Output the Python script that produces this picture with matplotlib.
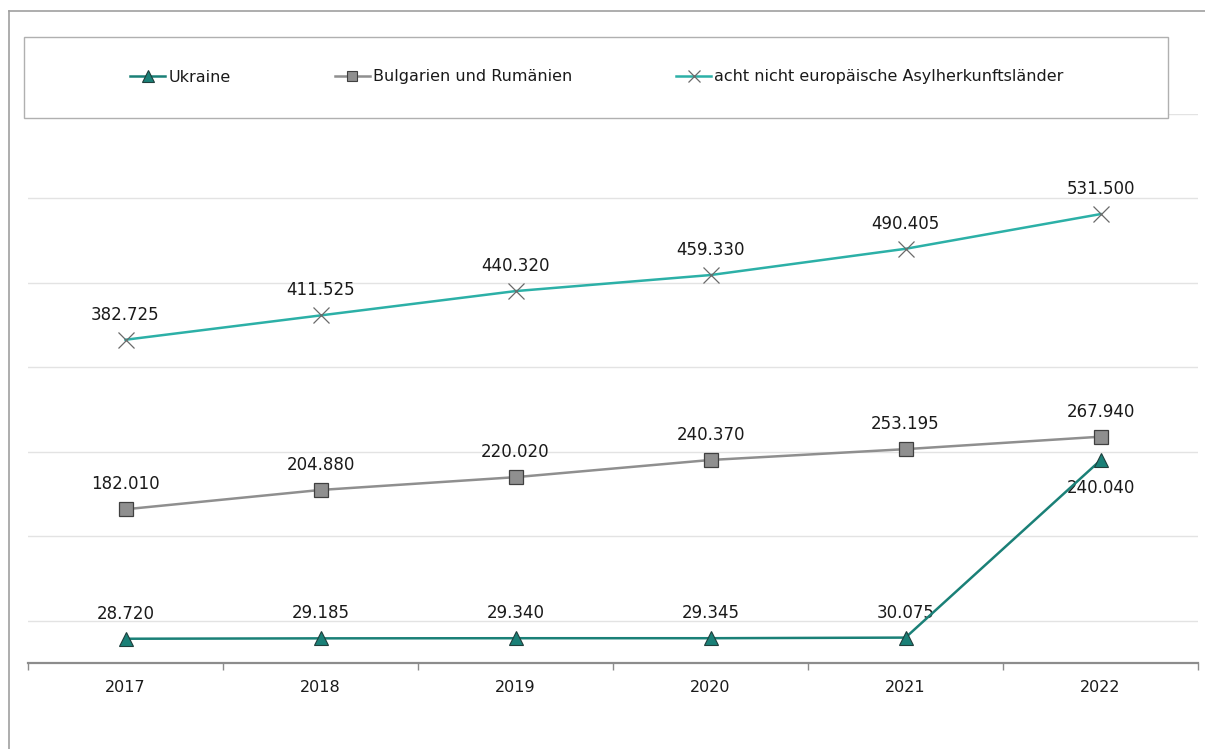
import matplotlib
matplotlib.use("Agg")
import matplotlib.pyplot as plt
from matplotlib.patches import Rectangle
from matplotlib.lines import Line2D

years = ["2017", "2018", "2019", "2020", "2021", "2022"]
ukraine = [28720, 29185, 29340, 29345, 30075, 240040]
bulgarien_rumaenien = [182010, 204880, 220020, 240370, 253195, 267940]
acht_laender = [382725, 411525, 440320, 459330, 490405, 531500]
series_names = ["Ukraine", "Bulgarien und Rumänien",
                "acht nicht europäische Asylherkunftsländer"]

W, H = 1205, 749
plt.rcParams["font.family"] = ["DejaVu Sans"]
fig = plt.figure(figsize=(W / 100, H / 100), dpi=100)

def fx(px):
    return px / W

def fy(py):
    return 1 - py / H

ax = fig.add_axes([fx(28), fy(663), fx(1198) - fx(28), fy(114) - fy(663)])
ax.set_xlim(-0.5, 5.5)
ax.set_ylim(0, 650000)

# horizontal gridlines
for g in range(50000, 650001, 100000):
    ax.axhline(g, color="#e3e3e3", lw=1.0, zorder=0)

x = list(range(len(years)))
fmt = lambda v: f"{v:,}".replace(",", ".")

teal_dark = "#1a8077"
teal_light = "#2cb0a7"
grey = "#8f8f8f"

l1, = ax.plot(x, ukraine, color=teal_dark, lw=1.8, marker="^", markersize=10,
              markerfacecolor=teal_dark, markeredgecolor="#1f3f3c",
              markeredgewidth=0.8, zorder=4)
l2, = ax.plot(x, bulgarien_rumaenien, color=grey, lw=1.8, marker="s",
              markersize=9.5, markerfacecolor=grey, markeredgecolor="#404040",
              markeredgewidth=0.9, zorder=3)
l3, = ax.plot(x, acht_laender, color=teal_light, lw=1.8, marker="x",
              markersize=11, markeredgecolor="#6a6a6a", markeredgewidth=0.9,
              zorder=3)

label_kw = dict(ha="center", va="center", fontsize=12, color="#1a1a1a",
                textcoords="offset points")
for xi, v in zip(x, ukraine):
    dy = -20 if v == ukraine[-1] else 18
    ax.annotate(fmt(v), (xi, v), xytext=(0, dy), **label_kw)
for xi, v in zip(x, bulgarien_rumaenien):
    ax.annotate(fmt(v), (xi, v), xytext=(0, 18), **label_kw)
for xi, v in zip(x, acht_laender):
    ax.annotate(fmt(v), (xi, v), xytext=(0, 18), **label_kw)

# axes styling
for s in ["top", "right", "left"]:
    ax.spines[s].set_visible(False)
ax.spines["bottom"].set_color("#8c8c8c")
ax.spines["bottom"].set_linewidth(1.6)
ax.set_yticks([])
ax.set_xticks(x)
ax.set_xticklabels(years, fontsize=11.5, color="#1a1a1a")
ax.tick_params(axis="x", which="major", length=0, pad=12)
ax.set_xticks([i - 0.5 for i in range(len(years) + 1)], minor=True)
ax.tick_params(axis="x", which="minor", length=5, width=1, color="#8c8c8c",
               direction="out")

# legend frame and entries
fig.patches.append(Rectangle((fx(24), fy(118)), fx(1168) - fx(24),
                             fy(37) - fy(118), transform=fig.transFigure,
                             facecolor="white", edgecolor="#b0b0b0", lw=1.0,
                             zorder=5))
handles = [
    Line2D([], [], color=teal_dark, lw=1.8, marker="^", markersize=8,
           markerfacecolor=teal_dark, markeredgecolor="#1f3f3c", markeredgewidth=0.8),
    Line2D([], [], color=grey, lw=1.8, marker="s", markersize=7.5,
           markerfacecolor=grey, markeredgecolor="#404040", markeredgewidth=0.8),
    Line2D([], [], color=teal_light, lw=1.8, marker="x", markersize=9,
           markeredgecolor="#6a6a6a", markeredgewidth=0.9),
]
leg = fig.legend(handles, series_names, loc="center",
                 bbox_to_anchor=(fx(597), fy(77)), ncol=3, frameon=False,
                 fontsize=11.5, handlelength=2.2, handletextpad=0.2,
                 columnspacing=6.5)
leg.set_zorder(6)
for t in leg.get_texts():
    t.set_color("#1a1a1a")

# outer border lines
fig.add_artist(Line2D([fx(9), 1], [fy(11), fy(11)], transform=fig.transFigure,
                      color="#a0a0a0", lw=1.2))
fig.add_artist(Line2D([fx(9), fx(9)], [fy(11), 0], transform=fig.transFigure,
                      color="#a0a0a0", lw=1.2))

fig.savefig("out.png", dpi=100, facecolor="white")
